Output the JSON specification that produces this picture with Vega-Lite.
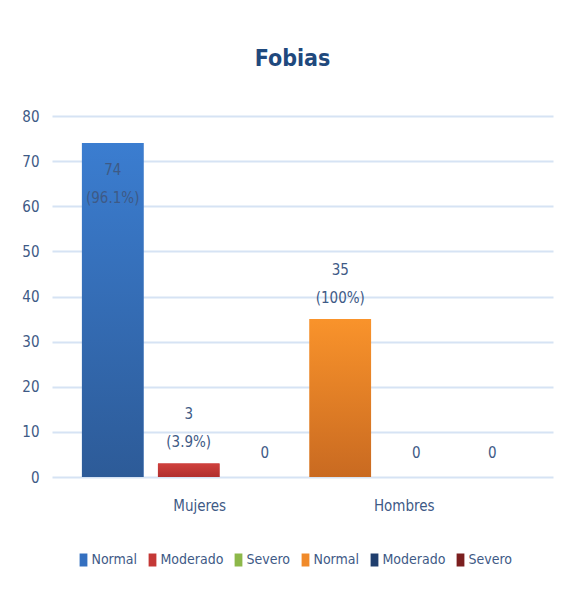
{
  "$schema": "https://vega.github.io/schema/vega-lite/v6.json",
  "autosize": "none",
  "width": 501,
  "height": 361,
  "padding": {"left": 52, "top": 116, "right": 14, "bottom": 118},
  "background": "white",
  "title": {
    "text": "Fobias",
    "font": "DejaVu Sans Condensed",
    "fontSize": 23,
    "fontWeight": "bold",
    "color": "#1F497D",
    "anchor": "middle",
    "baseline": "alphabetic",
    "offset": 20,
    "dx": -10
  },
  "config": {
    "view": {"stroke": null},
    "font": "DejaVu Sans Condensed",
    "axis": {"labelFont": "DejaVu Sans Condensed", "labelColor": "#3E5A86", "labelFontSize": 15}
  },
  "data": {
    "values": [
      {"grupo": "Mujeres", "nivel": "Normal", "serie": "M|Normal", "valor": 74, "num": "74", "pct": "(96.1%)"},
      {"grupo": "Mujeres", "nivel": "Moderado", "serie": "M|Moderado", "valor": 3, "num": "3", "pct": "(3.9%)"},
      {"grupo": "Mujeres", "nivel": "Severo", "serie": "M|Severo", "valor": 0, "num": "0", "pct": null},
      {"grupo": "Hombres", "nivel": "Normal", "serie": "H|Normal", "valor": 35, "num": "35", "pct": "(100%)"},
      {"grupo": "Hombres", "nivel": "Moderado", "serie": "H|Moderado", "valor": 0, "num": "0", "pct": null},
      {"grupo": "Hombres", "nivel": "Severo", "serie": "H|Severo", "valor": 0, "num": "0", "pct": null}
    ]
  },
  "encoding": {
    "x": {
      "field": "grupo",
      "type": "nominal",
      "sort": ["Mujeres", "Hombres"],
      "scale": {"paddingInner": 0.0614, "paddingOuter": 0.1316},
      "axis": {
        "title": null,
        "labelAngle": 0,
        "domain": false,
        "ticks": false,
        "labelPadding": 21,
        "labelBaseline": "top",
        "labelOffset": {"condition": {"test": "datum.value == 'Mujeres'", "value": 11}, "value": -12}
      }
    },
    "xOffset": {
      "field": "nivel",
      "type": "nominal",
      "sort": ["Normal", "Moderado", "Severo"],
      "scale": {"paddingInner": 0.19, "paddingOuter": 0}
    },
    "y": {
      "field": "valor",
      "type": "quantitative",
      "scale": {"domain": [0, 80]},
      "axis": {
        "title": null,
        "values": [0, 10, 20, 30, 40, 50, 60, 70, 80],
        "domain": false,
        "ticks": false,
        "labelPadding": 13,
        "gridColor": "#D6E3F4",
        "gridWidth": 2
      }
    }
  },
  "layer": [
    {
      "mark": {"type": "bar"},
      "encoding": {
        "color": {
          "field": "serie",
          "type": "nominal",
          "scale": {
            "domain": ["M|Normal", "M|Moderado", "M|Severo", "H|Normal", "H|Moderado", "H|Severo"],
            "range": ["#3470C0", "#C43836", "#8DB84A", "#F08A2A", "#203F6E", "#7B1F1F"]
          },
          "legend": {
            "title": null,
            "orient": "none",
            "legendX": 24.5,
            "legendY": 437,
            "direction": "horizontal",
            "labelExpr": "split(datum.label, '|')[1]",
            "labelFont": "DejaVu Sans Condensed",
            "labelFontSize": 14,
            "labelColor": "#3E5A86",
            "symbolType": "M-0.6,-1L0.6,-1L0.6,1L-0.6,1Z",
            "symbolSize": 169,
            "symbolStrokeWidth": 0,
            "labelOffset": 1,
            "columnPadding": 8
          }
        }
      }
    },
    {
      "transform": [{"filter": "datum.serie == 'M|Normal'"}],
      "mark": {"type": "bar", "color": {"gradient": "linear", "x1": 0, "y1": 0, "x2": 0, "y2": 1, "stops": [{"offset": 0, "color": "#3B7DD0"}, {"offset": 1, "color": "#2D5B98"}]}},
      "encoding": {}
    },
    {
      "transform": [{"filter": "datum.serie == 'M|Moderado'"}],
      "mark": {"type": "bar", "color": {"gradient": "linear", "x1": 0, "y1": 0, "x2": 0, "y2": 1, "stops": [{"offset": 0, "color": "#D0403C"}, {"offset": 1, "color": "#B02F2E"}]}},
      "encoding": {}
    },
    {
      "transform": [{"filter": "datum.serie == 'H|Normal'"}],
      "mark": {"type": "bar", "color": {"gradient": "linear", "x1": 0, "y1": 0, "x2": 0, "y2": 1, "stops": [{"offset": 0, "color": "#F9932B"}, {"offset": 1, "color": "#C96A21"}]}},
      "encoding": {}
    },
    {
      "transform": [{"filter": "datum.valor < 50 && datum.pct != null"}],
      "mark": {"type": "text", "baseline": "bottom", "dy": -41, "fontSize": 15, "color": "#3E5A86", "font": "DejaVu Sans Condensed"},
      "encoding": {"text": {"field": "num"}}
    },
    {
      "transform": [{"filter": "datum.valor < 50 && datum.pct != null"}],
      "mark": {"type": "text", "baseline": "bottom", "dy": -13, "fontSize": 15, "color": "#3E5A86", "font": "DejaVu Sans Condensed"},
      "encoding": {"text": {"field": "pct"}}
    },
    {
      "transform": [{"filter": "datum.pct == null"}],
      "mark": {"type": "text", "baseline": "bottom", "dy": -16, "fontSize": 15, "color": "#3E5A86", "font": "DejaVu Sans Condensed"},
      "encoding": {"text": {"field": "num"}}
    },
    {
      "transform": [{"filter": "datum.valor >= 50"}],
      "mark": {"type": "text", "baseline": "top", "dy": 20, "fontSize": 15, "color": "#3E5A86", "font": "DejaVu Sans Condensed"},
      "encoding": {"text": {"field": "num"}}
    },
    {
      "transform": [{"filter": "datum.valor >= 50"}],
      "mark": {"type": "text", "baseline": "top", "dy": 48, "fontSize": 15, "color": "#3E5A86", "font": "DejaVu Sans Condensed"},
      "encoding": {"text": {"field": "pct"}}
    }
  ]
}
